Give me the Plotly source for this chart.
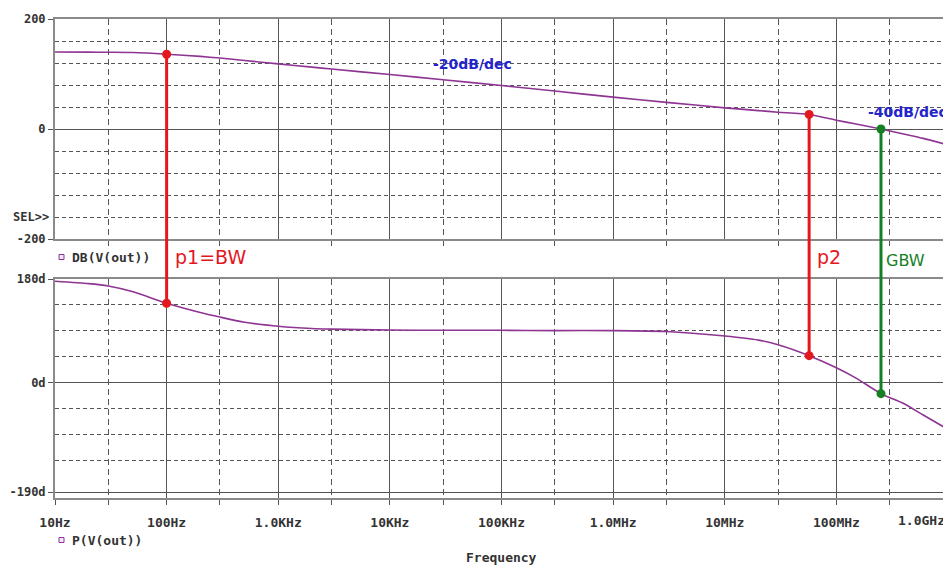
import plotly.graph_objects as go

# ---------------- data ----------------
freq_hz = [10, 20, 30, 50, 100, 200, 300, 500, 1e3, 2e3, 3e3, 1e4, 3e4, 1e5, 3e5,
           1e6, 3e6, 1e7, 2e7, 3e7, 5.7e7, 1e8, 1.5e8, 2.51e8, 4e8, 6e8, 1e9]
mag_db = [140, 139.7, 139.5, 139, 136, 132, 129, 124.5, 118.5, 112.5, 109, 99, 89.5, 79, 69,
          58, 48.5, 38.5, 33.5, 30.5, 26.5, 16, 9, 0, -9, -17, -29]
phase_deg = [176, 172, 168, 158, 138, 122, 114, 105, 98, 94, 93, 91.5, 91, 91, 90.5,
             90.5, 89, 81, 74, 66, 47, 26, 8, -19, -36, -56, -81]

marker_labels = ["p1=BW", "p2", "GBW"]
marker_freq = [100, 5.7e7, 2.51e8]
marker_mag = [136, 26.5, 0]
marker_phase = [138, 47, -19]

x_major = [10, 100, 1e3, 1e4, 1e5, 1e6, 1e7, 1e8, 1e9]
x_labels = ["10Hz", "100Hz", "1.0KHz", "10KHz", "100KHz", "1.0MHz", "10MHz", "100MHz", ""]
x_last_label = "1.0GHz"
x_minor = [30, 300, 3e3, 3e4, 3e5, 3e6, 3e7, 3e8]

mag_ticks = [200, 0, -200]
mag_labels = ["200", "0", "-200"]
mag_minor = [160, 120, 80, 40, -40, -80, -120, -160]
phase_ticks = [180, 0, -190]
phase_labels = ["180d", "0d", "-190d"]
phase_minor = [135, 90, 45, -45, -90, -135]

# ---------------- styling ----------------
OFF = 8                      # the page body margin places the figure at (8, 8)
W, H = 951 - OFF, 567 - OFF
ML, MR, MT, MB = 55 - OFF, 3, 19 - OFF, 69
PW, PH = W - ML - MR, H - MT - MB
TRACE = "#8e3593"
RED = "#e3171e"
GREEN = "#157f24"
BLUE = "#2424cc"
BORDER = "#8a8a8a"
GRID = "#555555"
TICKFONT = dict(family="DejaVu Sans Mono", size=13, color="#333333", weight="bold")
YTICKFONT = dict(family="DejaVu Sans Mono", size=12, color="#333333", weight="bold")


def px2x(px):
    """window pixel x -> paper x"""
    return (px - OFF - ML) / PW


def py2y(py):
    """window pixel y -> paper y"""
    return (H - MB - (py - OFF)) / PH


top_dom = [py2y(239), 1.0]
bot_dom = [0.0, py2y(279)]
marker_colors = [RED, RED, GREEN]

fig = go.Figure()

# curves
fig.add_trace(go.Scatter(x=freq_hz, y=mag_db, mode="lines", line=dict(color=TRACE, width=1.6, shape="spline", smoothing=0.6),
                         xaxis="x", yaxis="y", showlegend=False, hoverinfo="skip"))
fig.add_trace(go.Scatter(x=freq_hz, y=phase_deg, mode="lines", line=dict(color=TRACE, width=1.6, shape="spline", smoothing=0.6),
                         xaxis="x2", yaxis="y2", showlegend=False, hoverinfo="skip"))

# marker verticals + dots
for f, m, p, c in zip(marker_freq, marker_mag, marker_phase, marker_colors):
    fig.add_trace(go.Scatter(x=[f, f], y=[m, mag_ticks[-1]], mode="lines", line=dict(color=c, width=3),
                             xaxis="x", yaxis="y", showlegend=False, hoverinfo="skip"))
    fig.add_trace(go.Scatter(x=[f, f], y=[phase_ticks[0], p], mode="lines", line=dict(color=c, width=3),
                             xaxis="x2", yaxis="y2", showlegend=False, hoverinfo="skip"))
    fig.add_shape(type="line", xref="x2", yref="paper", x0=f, x1=f, y0=bot_dom[1], y1=top_dom[0],
                  line=dict(color=c, width=3))
    fig.add_trace(go.Scatter(x=[f], y=[m], mode="markers", marker=dict(color=c, size=9),
                             xaxis="x", yaxis="y", showlegend=False, hoverinfo="skip", cliponaxis=False))
    fig.add_trace(go.Scatter(x=[f], y=[p], mode="markers", marker=dict(color=c, size=9),
                             xaxis="x2", yaxis="y2", showlegend=False, hoverinfo="skip", cliponaxis=False))

xcommon = dict(type="log", range=[1, 9], tickvals=x_major, showgrid=True, gridcolor=GRID, gridwidth=1,
               showline=True, mirror=True, linecolor=BORDER, linewidth=2, zeroline=False, automargin=False,
               minor=dict(tickvals=x_minor, showgrid=True, gridcolor=GRID, gridwidth=1, griddash="6px,4px",
                          ticks="outside", ticklen=5, tickcolor=GRID))
ycommon = dict(showgrid=True, gridcolor=GRID, gridwidth=1, showline=True, mirror=True, linecolor=BORDER,
               linewidth=2, zeroline=False, ticks="outside", ticklen=5, tickcolor=GRID, tickfont=YTICKFONT,
               ticklabelstandoff=0, automargin=False)

fig.update_layout(
    width=W, height=H, margin=dict(l=ML, r=MR, t=MT, b=MB, autoexpand=False),
    paper_bgcolor="white", plot_bgcolor="white", showlegend=False,
    xaxis=dict(**xcommon, domain=[0, 1], anchor="y", matches="x2", showticklabels=False, ticks=""),
    xaxis2=dict(**xcommon, domain=[0, 1], anchor="y2", ticktext=x_labels, tickfont=TICKFONT,
                ticks="outside", ticklen=5, tickcolor=GRID, ticklabelstandoff=6),
    yaxis=dict(**ycommon, domain=top_dom, range=[-200, 200], tickvals=mag_ticks, ticktext=mag_labels,
               minor=dict(tickvals=mag_minor, showgrid=True, gridcolor=GRID, gridwidth=1, griddash="4px,3px")),
    yaxis2=dict(**ycommon, domain=bot_dom, range=[-200, 180], tickvals=phase_ticks, ticktext=phase_labels,
                minor=dict(tickvals=phase_minor, showgrid=True, gridcolor=GRID, gridwidth=1, griddash="4px,3px")),
)

ann = []
# last x tick label (kept inside the window like the original)
ann.append(dict(text=x_last_label, xref="x2", yref="paper", x=9, y=py2y(520), xanchor="right", yanchor="middle",
                showarrow=False, font=TICKFONT, xshift=-1))
# SEL>>
ann.append(dict(text="SEL>>", xref="paper", yref="paper", x=px2x(51), y=py2y(217), xanchor="right", yanchor="middle",
                showarrow=False, font=YTICKFONT))
# trace names
ann.append(dict(text="DB(V(out))", xref="paper", yref="paper", x=px2x(70), y=py2y(257), xanchor="left", yanchor="middle",
                showarrow=False, font=TICKFONT))
ann.append(dict(text="P(V(out))", xref="paper", yref="paper", x=px2x(70), y=py2y(540), xanchor="left", yanchor="middle",
                showarrow=False, font=TICKFONT))
ann.append(dict(text="Frequency", xref="paper", yref="paper", x=0.5, y=py2y(557), xanchor="center", yanchor="middle",
                showarrow=False, font=TICKFONT))
# marker labels
for lbl, px, py, c, sz in zip(marker_labels, [173, 815, 884], [257, 257, 261], marker_colors, [19, 19, 16]):
    ann.append(dict(text=lbl, xref="paper", yref="paper", x=px2x(px), y=py2y(py), xanchor="left", yanchor="middle",
                    showarrow=False, font=dict(family="DejaVu Sans", size=sz, color=c)))
# slope labels
ann.append(dict(text="-20dB/dec", xref="paper", yref="paper", x=px2x(431), y=py2y(64), xanchor="left", yanchor="middle",
                showarrow=False, font=dict(family="DejaVu Sans", size=14, color=BLUE, weight="bold")))
ann.append(dict(text="-40dB/dec", xref="paper", yref="paper", x=px2x(866), y=py2y(112), xanchor="left", yanchor="middle",
                showarrow=False, font=dict(family="DejaVu Sans", size=14, color=BLUE, weight="bold")))
fig.update_layout(annotations=ann)

# small trace-name squares
for py in [257, 540]:
    fig.add_shape(type="rect", xref="paper", yref="paper", x0=px2x(59), x1=px2x(64), y0=py2y(py + 2.5), y1=py2y(py - 2.5),
                  line=dict(color=TRACE, width=1), fillcolor="#f3e6f5")

fig.write_html("out.html")
